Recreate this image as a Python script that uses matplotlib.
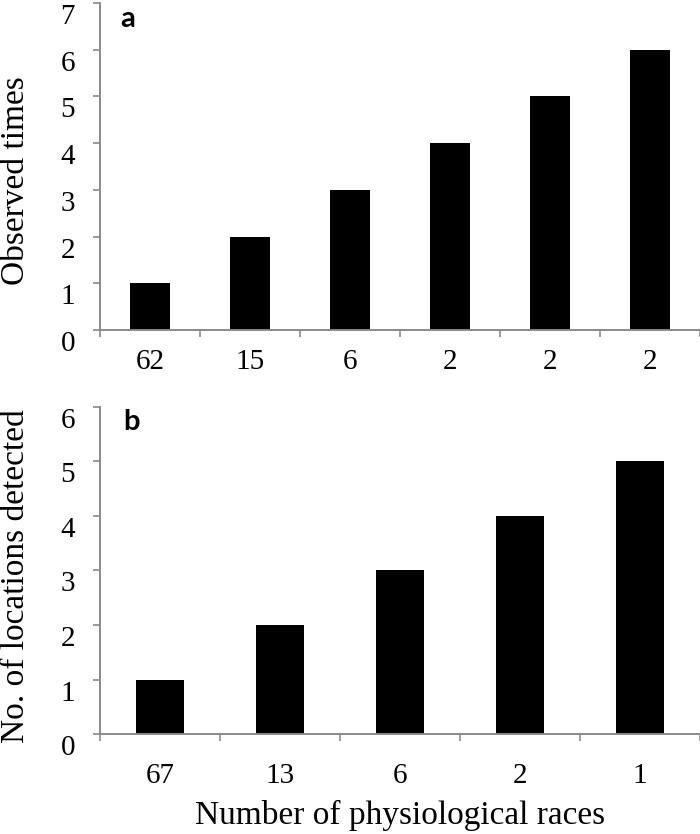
import numpy as np
import matplotlib.pyplot as plt
import matplotlib.transforms as mtransforms

# panel a
races_a = ["62", "15", "6", "2", "2", "2"]
times_a = [1, 2, 3, 4, 5, 6]
# panel b
races_b = ["67", "13", "6", "2", "1"]
locs_b = [1, 2, 3, 4, 5]

plt.rcParams['font.family'] = ['Liberation Serif']
grey = '#8a8a8a'

fig = plt.figure(figsize=(7, 8.34), dpi=100)
ax1 = fig.add_axes([0.1429, 0.6043, 0.857, 0.3921])
ax2 = fig.add_axes([0.1429, 0.1199, 0.857, 0.3921])


def style(ax, labels, vals, ymax, xpad):
    n = len(labels)
    x = np.arange(n)
    ax.bar(x, vals, width=0.4, color='black')
    ax.set_xlim(-0.5, n - 0.5)
    ax.set_ylim(0, ymax)
    ax.set_yticks(range(ymax + 1))
    ax.set_xticks(x)
    ax.set_xticklabels(labels)
    ax.set_xticks(np.arange(n + 1) - 0.5, minor=True)
    ax.tick_params(axis='x', which='major', length=0, pad=xpad, labelsize=21)
    ax.tick_params(axis='x', which='minor', length=5, width=1.2, color=grey, direction='out')
    ax.tick_params(axis='y', length=5, width=1.2, color=grey, labelsize=21, pad=13)
    # labels sit a little below their ticks, as in the original
    shift = mtransforms.ScaledTranslation(0, -0.11, fig.dpi_scale_trans)
    for lab in ax.get_yticklabels():
        lab.set_transform(lab.get_transform() + shift)
    for s in ['top', 'right']:
        ax.spines[s].set_visible(False)
    for s in ['left', 'bottom']:
        ax.spines[s].set_color(grey)
        ax.spines[s].set_linewidth(1.4)


style(ax1, races_a, times_a, 7, 14)
style(ax2, races_b, locs_b, 6, 21)

ax1.set_ylabel("Observed times", fontsize=24)
ax1.yaxis.set_label_coords(-0.115, 0.456)
ax2.set_ylabel("No. of locations detected", fontsize=24)
ax2.yaxis.set_label_coords(-0.115, 0.483)
ax2.set_xlabel("Number of physiological races", fontsize=24, labelpad=8)

ax1.text(0.033, 0.927, "a", transform=ax1.transAxes, fontsize=21, fontweight='bold',
         family='Lato', va='baseline', ha='left')
ax2.text(0.038, 0.93, "b", transform=ax2.transAxes, fontsize=21, fontweight='bold',
         family='Lato', va='baseline', ha='left')

fig.savefig("out.png", dpi=100)
